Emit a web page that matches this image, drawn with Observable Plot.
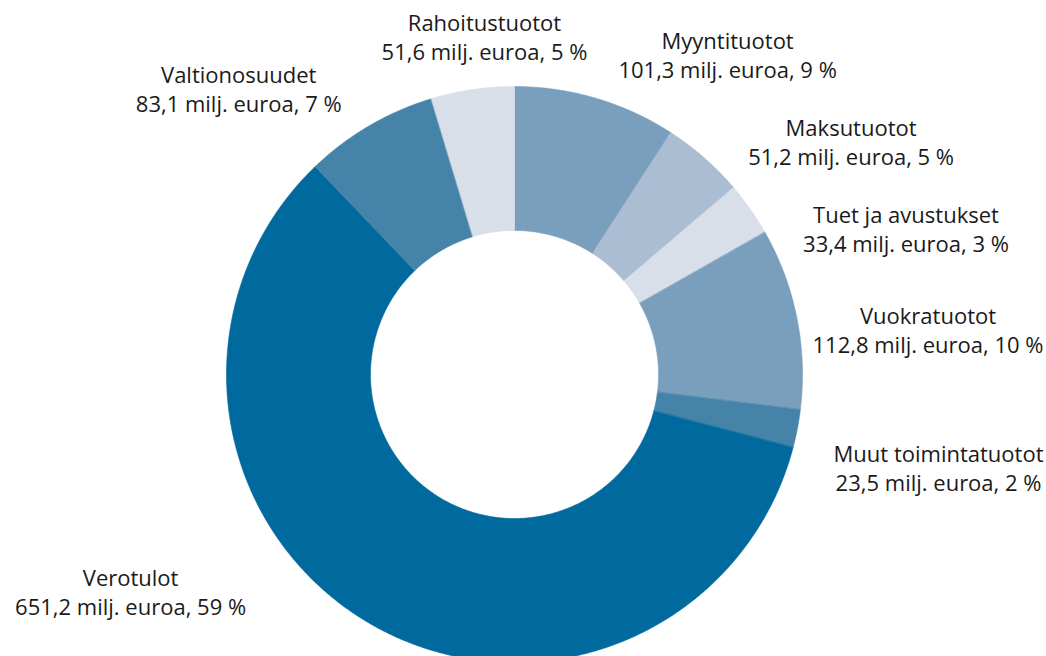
<!DOCTYPE html>
<html>
<head>
<meta charset="utf-8">
<script src="https://cdn.jsdelivr.net/npm/d3@7"></script>
<script src="https://cdn.jsdelivr.net/npm/@observablehq/plot@0.6"></script>
<style>
  html, body { margin: 0; padding: 0; background: #fff; }
  #chart svg { display: block; }
</style>
</head>
<body>
<div id="chart"></div>
<script>
// ---- data (clockwise from top) ----
const names = ["Myyntituotot", "Maksutuotot", "Tuet ja avustukset", "Vuokratuotot",
               "Muut toimintatuotot", "Verotulot", "Valtionosuudet", "Rahoitustuotot"];
const values = [101.3, 51.2, 33.4, 112.8, 23.5, 651.2, 83.1, 51.6]; // milj. euroa
const colors = ["#7a9fbd", "#aabdd2", "#d8dfe9", "#7a9fbd",
                "#4583a8", "#006a9e", "#4583a8", "#d8dfe9"];
const unit = "milj. euroa";

// ---- layout ----
const W = 1046, H = 656;
const R = 288, CX = 514, CY = 374;   // outer radius & centre (px)
const INNER = 0.5;                    // inner radius / outer radius
const FONT = 22, LH = 29;
const fontFamily = "'Open Sans', 'Noto Sans', sans-serif";

const total = d3.sum(values);
const fmt = v => v.toFixed(1).replace(".", ",");
const pie = d3.pie().sort(null).value(d => d.value)(names.map((n, i) => ({name: n, value: values[i]})));

// polygon vertices of each ring segment in radius units
const ring = [];
for (const a of pie) {
  const n = Math.max(4, Math.ceil((a.endAngle - a.startAngle) / (Math.PI / 360)));
  const pts = [];
  for (let i = 0; i <= n; i++) {
    const t = a.startAngle + (a.endAngle - a.startAngle) * i / n;
    pts.push([Math.sin(t), Math.cos(t)]);
  }
  for (let i = n; i >= 0; i--) {
    const t = a.startAngle + (a.endAngle - a.startAngle) * i / n;
    pts.push([INNER * Math.sin(t), INNER * Math.cos(t)]);
  }
  pts.forEach(([x, y], k) => ring.push({name: a.data.name, k, x, y}));
}

// label texts and widths
const ctx = document.createElement("canvas").getContext("2d");
ctx.font = `${FONT}px ${fontFamily}`;
const labels = pie.map(a => {
  const pct = Math.round(a.data.value / total * 100);
  const l1 = a.data.name, l2 = `${fmt(a.data.value)} ${unit}, ${pct} %`;
  const w = Math.max(ctx.measureText(l1).width, ctx.measureText(l2).width);
  return {name: a.data.name, text: l1 + "\n" + l2, w, mid: (a.startAngle + a.endAngle) / 2};
});

// place labels outside the ring (px), pushing apart vertically
const D_UP = 313, D_DOWN = 330, R1 = 360, GAP = 87, BH = 50, YMAX = H - 65, PAD = 3;
for (const l of labels) {
  l.yc = CY - R1 * Math.cos(l.mid) + BH / 2;
  l.top = Math.abs(Math.sin(l.mid)) < 0.2 && Math.cos(l.mid) > 0;
}
for (const side of [0, 1]) {
  const g = labels.filter(l => !l.top && (side === 0 ? l.mid < Math.PI : l.mid >= Math.PI)).sort((a, b) => a.yc - b.yc);
  for (let i = 1; i < g.length; i++) g[i].yc = Math.max(g[i].yc, g[i - 1].yc + GAP);
  if (g.length) g[g.length - 1].yc = Math.min(g[g.length - 1].yc, YMAX);
  for (let i = g.length - 2; i >= 0; i--) g[i].yc = Math.min(g[i].yc, g[i + 1].yc - GAP);
  for (const l of g) {
    const t = l.yc - BH / 2, b = l.yc + BH / 2;
    const D = t > CY ? D_DOWN : D_UP;
    const dyN = t > CY ? t - CY : (b < CY ? CY - b : 0);
    const dx = Math.sqrt(Math.max(D * D - dyN * dyN, 0));
    l.xc = side === 0 ? Math.min(CX + dx + l.w / 2, W - PAD - l.w / 2)
                      : Math.max(CX - dx - l.w / 2, PAD + l.w / 2);
  }
}
for (const l of labels.filter(l => l.top)) { l.xc = CX + l.w * Math.sin(l.mid); l.yc = CY - D_UP - BH / 2; }
for (const l of labels) { l.x = (l.xc - CX) / R; l.y = (CY - l.yc) / R; }

const chart = Plot.plot({
  width: W, height: H,
  marginTop: 0, marginRight: 0, marginBottom: 0, marginLeft: 0,
  x: {domain: [-CX / R, (W - CX) / R], axis: null},
  y: {domain: [-(H - CY) / R, CY / R], axis: null},
  color: {domain: names, range: colors},
  style: {fontFamily, background: "#fff", overflow: "hidden"},
  marks: [
    Plot.line(ring, {x: "x", y: "y", z: "name", fill: "name", stroke: "name", strokeWidth: 0.6, curve: "linear-closed", clip: true}),
    Plot.text(labels, {x: "x", y: "y", text: "text", textAnchor: "middle", lineAnchor: "middle",
                        fontSize: FONT, lineHeight: LH / FONT, fill: "#1a1a1a"})
  ]
});
document.getElementById("chart").appendChild(chart);
</script>
</body>
</html>
